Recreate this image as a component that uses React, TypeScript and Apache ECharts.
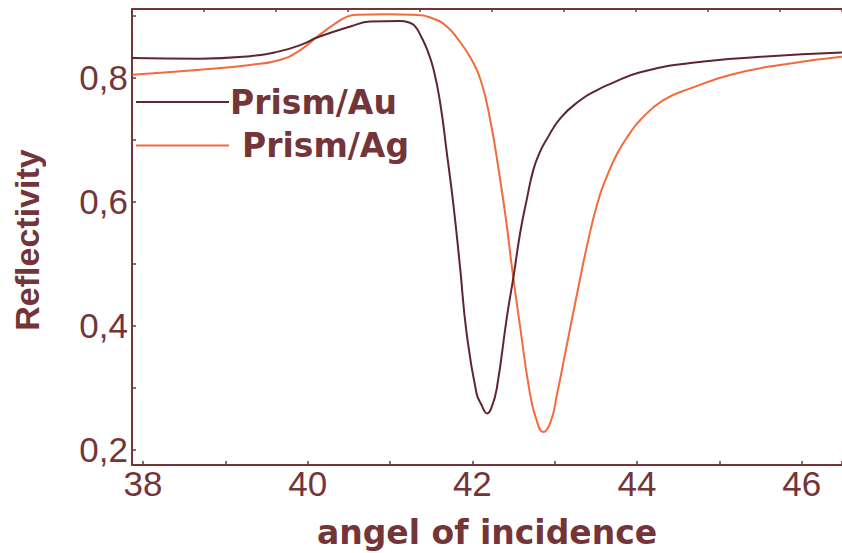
import React, { useEffect, useRef } from "react";
import * as echarts from "echarts";

// Reflectivity vs. angle of incidence for a prism coated with gold and with silver
const angleAu = [
  37.87, 38.69, 39.3, 39.63, 39.91, 40.13, 40.52, 40.76, 41.12, 41.24, 41.3, 41.37,
  41.45, 41.53, 41.61, 41.69, 41.77, 41.85, 41.93, 42.05, 42.11, 42.18, 42.24, 42.3,
  42.42, 42.5, 42.58, 42.66, 42.74, 42.82, 42.9, 43.07, 43.31, 43.51, 43.67, 44.04,
  44.65, 45.5, 46.49,
];
const reflAu = [
  0.832, 0.831, 0.835, 0.842, 0.853, 0.866, 0.883, 0.891, 0.892, 0.889, 0.884, 0.869,
  0.846, 0.813, 0.759, 0.679, 0.595, 0.495, 0.388, 0.291, 0.272, 0.258, 0.27, 0.301,
  0.414, 0.479, 0.549, 0.603, 0.651, 0.68, 0.7, 0.735, 0.764, 0.78, 0.79, 0.809,
  0.824, 0.834, 0.841,
];

const angleAg = [
  37.87, 38.69, 39.3, 39.66, 39.91, 40.13, 40.36, 40.48, 40.6, 40.96, 41.28, 41.52,
  41.69, 41.85, 41.97, 42.1, 42.22, 42.32, 42.41, 42.48, 42.58, 42.7, 42.78, 42.86,
  42.95, 43.03, 43.15, 43.27, 43.39, 43.52, 43.64, 43.76, 43.9, 44.04, 44.32, 44.65,
  45.14, 45.74, 46.49,
];
const reflAg = [
  0.805, 0.813, 0.821, 0.829, 0.845, 0.868, 0.89, 0.899, 0.902, 0.903, 0.902, 0.896,
  0.883, 0.858, 0.834, 0.797, 0.73, 0.651, 0.57, 0.495, 0.398, 0.29, 0.247, 0.228,
  0.244, 0.29, 0.37, 0.45, 0.527, 0.598, 0.643, 0.678, 0.708, 0.732, 0.764, 0.783,
  0.805, 0.821, 0.834,
];

const seriesNames = ["Prism/Au", "Prism/Ag"];
const angleLabels = [38, 40, 42, 44, 46];
const reflLabels = [0.2, 0.4, 0.6, 0.8];

const X_MIN = 37.866;
const X_MAX = 46.49;
const Y_MIN = 0.1746;
const Y_MAX = 0.9113;

const AXIS = "#743538";
const AU = "#5e2630";
const AG = "#f36a3c";
const SANS = "Arial, 'Liberation Sans', sans-serif";

const near = (list: number[], v: number) => list.some((t) => Math.abs(t - v) < 1e-6);

export default function App() {
  const ref = useRef<HTMLDivElement>(null);

  useEffect(() => {
    if (!ref.current) return;
    const chart = echarts.init(ref.current, null, { renderer: "svg" });

    const tickStyle = { color: AXIS, width: 1.5 };
    const lineStyle = { color: AXIS, width: 2 };
    const legendText = {
      color: AXIS,
      fontFamily: "DejaVu Sans",
      fontWeight: "bold" as const,
      fontSize: 33,
    };

    chart.setOption({
      animation: false,
      backgroundColor: "#ffffff",
      grid: { left: 132, right: 0, top: 9, bottom: 88, containLabel: false, outerBoundsMode: "none" },
      xAxis: [
        {
          type: "value",
          position: "bottom",
          min: X_MIN,
          max: X_MAX,
          minInterval: 1,
          maxInterval: 1,
          splitLine: { show: false },
          axisLine: { show: true, onZero: false, lineStyle },
          axisTick: { show: true, inside: true, length: 4, lineStyle: tickStyle },
          axisLabel: {
            color: AXIS,
            fontFamily: SANS,
            fontSize: 35,
            margin: 1,
            formatter: (v: number) => (near(angleLabels, v) ? String(Math.round(v)) : ""),
          },
          name: "angel of incidence",
          nameLocation: "middle",
          nameGap: 51,
          nameTextStyle: legendText,
        },
        {
          type: "value",
          position: "top",
          min: 0,
          max: 9.861,
          minInterval: 1,
          maxInterval: 1,
          splitLine: { show: false },
          axisLine: { show: true, onZero: false, lineStyle },
          axisTick: { show: true, inside: true, length: 3, lineStyle: tickStyle },
          axisLabel: { show: false },
        },
      ],
      yAxis: {
        type: "value",
        min: Y_MIN,
        max: Y_MAX,
        minInterval: 0.1,
        maxInterval: 0.1,
        splitLine: { show: false },
        axisLine: { show: true, onZero: false, lineStyle },
        axisTick: { show: true, inside: true, length: 4, lineStyle: tickStyle },
        axisLabel: {
          color: AXIS,
          fontFamily: SANS,
          fontSize: 35,
          margin: 4,
          formatter: (v: number) => (near(reflLabels, v) ? v.toFixed(1).replace(".", ",") : ""),
        },
        name: "Reflectivity",
        nameLocation: "middle",
        nameRotate: 90,
        nameGap: 88,
        nameTextStyle: {
          color: AXIS,
          fontFamily: SANS,
          fontWeight: "bold",
          fontSize: 34,
          padding: [0, 6, 0, 0],
        },
      },
      legend: [
        {
          data: [seriesNames[0]],
          left: 136,
          top: 85.5,
          padding: 0,
          icon: "rect",
          itemWidth: 93,
          itemHeight: 2,
          selectedMode: false,
          textStyle: { ...legendText, padding: [0, 0, 0, -4] },
        },
        {
          data: [seriesNames[1]],
          left: 136,
          top: 129,
          padding: 0,
          icon: "rect",
          itemWidth: 93,
          itemHeight: 2,
          selectedMode: false,
          textStyle: { ...legendText, padding: [0, 0, 0, 8] },
        },
      ],
      series: [
        {
          name: seriesNames[1],
          type: "line",
          xAxisIndex: 0,
          data: angleAg.map((a, i) => [a, reflAg[i]]),
          showSymbol: false,
          smooth: 0.5,
          itemStyle: { color: AG },
          lineStyle: { color: AG, width: 2 },
          z: 2,
        },
        {
          name: seriesNames[0],
          type: "line",
          xAxisIndex: 0,
          data: angleAu.map((a, i) => [a, reflAu[i]]),
          showSymbol: false,
          smooth: 0.5,
          itemStyle: { color: AU },
          lineStyle: { color: AU, width: 2 },
          z: 3,
        },
      ],
    });

    return () => chart.dispose();
  }, []);

  return (
    <div
      ref={ref}
      style={{ position: "fixed", left: 0, top: 0, width: 842, height: 553, background: "#fff" }}
    />
  );
}
